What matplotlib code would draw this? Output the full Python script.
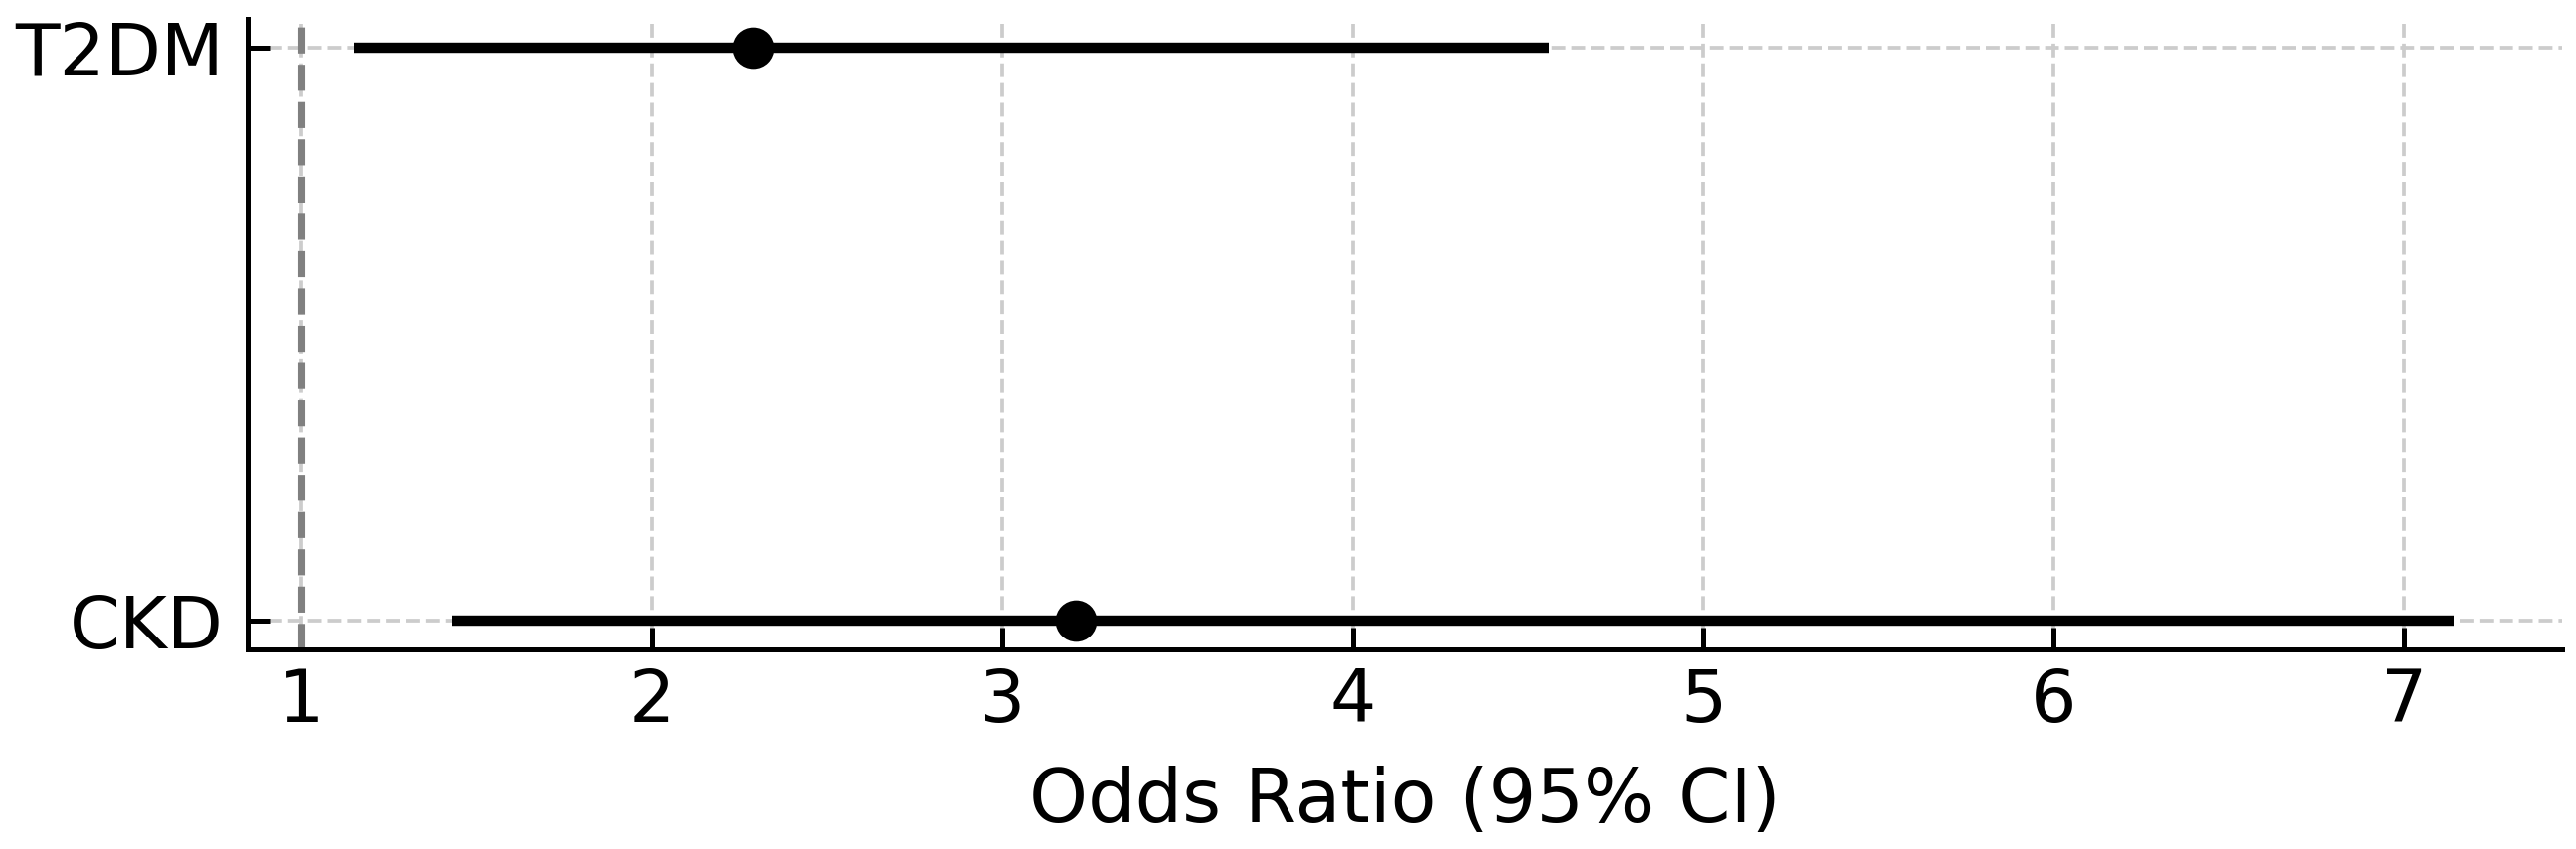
import matplotlib.pyplot as plt

# odds ratios with 95% CI
labels = ["CKD", "T2DM"]
odds_ratio = [3.21, 2.29]
ci_low = [1.43, 1.15]
ci_high = [7.14, 4.56]

fig = plt.figure(figsize=(2593 / 300, 855 / 300), dpi=300)
ax = fig.add_axes([0.0964, 0.235, 0.8982, 0.743])

ypos = list(range(len(labels)))
err_lo = [o - l for o, l in zip(odds_ratio, ci_low)]
err_hi = [h - o for o, h in zip(odds_ratio, ci_high)]

ax.errorbar(odds_ratio, ypos, xerr=[err_lo, err_hi], fmt="o", color="black",
            ecolor="black", elinewidth=2.5, markersize=9, capsize=0, zorder=3)
ax.axvline(1, color="gray", linestyle="--", linewidth=1.7, zorder=2)

ax.set_yticks(ypos)
ax.set_yticklabels(labels)
ax.set_xticks([1, 2, 3, 4, 5, 6, 7])
ax.set_xlim(0.85, 7.45)
ax.set_ylim(-0.05, 1.05)
ax.set_xlabel("Odds Ratio (95% CI)", fontsize=18, labelpad=7)

ax.grid(True, linestyle="--", color="#cccccc", linewidth=0.9, zorder=0)
ax.set_axisbelow(True)
ax.spines["top"].set_visible(False)
ax.spines["right"].set_visible(False)
for s in ["left", "bottom"]:
    ax.spines[s].set_linewidth(1.2)
ax.tick_params(axis="both", direction="in", length=5.3, width=1.2, labelsize=17.5)
ax.tick_params(axis="x", pad=4)
ax.tick_params(axis="y", pad=6)

fig.savefig("out.png", dpi=300)
